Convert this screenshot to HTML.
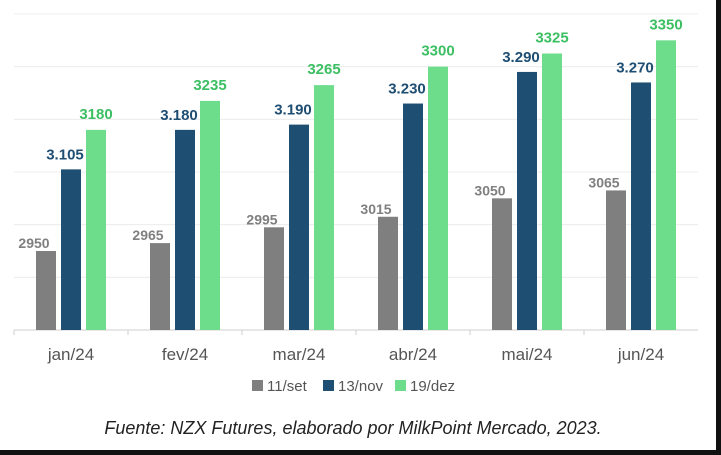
<!DOCTYPE html>
<html><head><meta charset="utf-8"><style>
body{margin:0;background:#fff;}
#wrap{position:relative;width:721px;height:455px;overflow:hidden;background:#fff;}
svg text{font-family:"Liberation Sans",sans-serif;}
</style></head><body>
<div id="wrap">
<svg id="chart" width="721" height="455"></svg>
</div>
<script>
const categories=["jan/24","fev/24","mar/24","abr/24","mai/24","jun/24"];
const seriesNames=["11/set","13/nov","19/dez"];
const setValues=[2950,2965,2995,3015,3050,3065];
const novValues=[3105,3180,3190,3230,3290,3270];
const dezValues=[3180,3235,3265,3300,3325,3350];
const setLabels=["2950","2965","2995","3015","3050","3065"];
const novLabels=["3.105","3.180","3.190","3.230","3.290","3.270"];
const dezLabels=["3180","3235","3265","3300","3325","3350"];
const gridValues=[2900,3000,3100,3200,3300,3400];

const NS="http://www.w3.org/2000/svg";
const svg=document.getElementById('chart');
const x0=14,bandW=114,yBase=330,yMin=2800,yMax=3400,yTop=14;
function y(v){return yBase-(v-yMin)/(yMax-yMin)*(yBase-yTop);}
function bandC(i){return x0+bandW*i+bandW/2;}
function el(t,a){const e=document.createElementNS(NS,t);for(const k in a)e.setAttribute(k,a[k]);svg.appendChild(e);return e;}

gridValues.forEach(v=>{
  const g=el('line',{x1:x0,x2:x0+bandW*6,y1:y(v),y2:y(v),stroke:'#ececec','stroke-width':1});
  
  
});
const ax=el('line',{x1:x0,x2:x0+bandW*6,y1:yBase,y2:yBase,stroke:'#cfcfcf','stroke-width':1});



const series=[[setValues,setLabels,'#7f7f7f','#7f7f7f'],[novValues,novLabels,'#1f4e73','#1f4e73'],[dezValues,dezLabels,'#6ddc8b','#3cbf63']];
const offs=[-25,0,25],bw=20,lOff=[-12,-6,0],lDy=[3,10,11];
categories.forEach((c,i)=>{
  const tk=el('line',{x1:x0+bandW*i,x2:x0+bandW*i,y1:yBase,y2:yBase+5,stroke:'#cfcfcf'});
  
  
  const t=el('text',{x:bandC(i),y:yBase+30,'text-anchor':'middle','font-size':17,fill:'#555'});
  t.textContent=c;
  
  
  series.forEach((s,k)=>{
    const v=s[0][i],cx=bandC(i)+offs[k];
    const r=el('rect',{x:cx-bw/2,y:y(v),width:bw,height:yBase-y(v),fill:s[2]});
    
    
    const l=el('text',{x:cx+lOff[k],y:y(v)-lDy[k],'text-anchor':'middle','font-size':k===0?14:15,'font-weight':'bold',fill:s[3]});
    l.textContent=s[1][i];
    
    
  });
});

const legX=[252,323,395],legC=['#7f7f7f','#1f4e73','#6ddc8b'];
seriesNames.forEach((n,k)=>{
  const r=el('rect',{x:legX[k],y:380,width:11,height:11,fill:legC[k]});
  
  
  const t=el('text',{x:legX[k]+15,y:391,'font-size':15,fill:'#555'});
  t.textContent=n;
  
  
});

const cap=el('text',{x:353,y:434,'text-anchor':'middle','font-size':18,'font-style':'italic',fill:'#222'});
cap.textContent='Fuente: NZX Futures, elaborado por MilkPoint Mercado, 2023.';



const b1=el('rect',{x:716,y:0,width:5,height:455,fill:'#111'});


const b2=el('rect',{x:0,y:450,width:721,height:5,fill:'#111'});


</script>
</body></html>
